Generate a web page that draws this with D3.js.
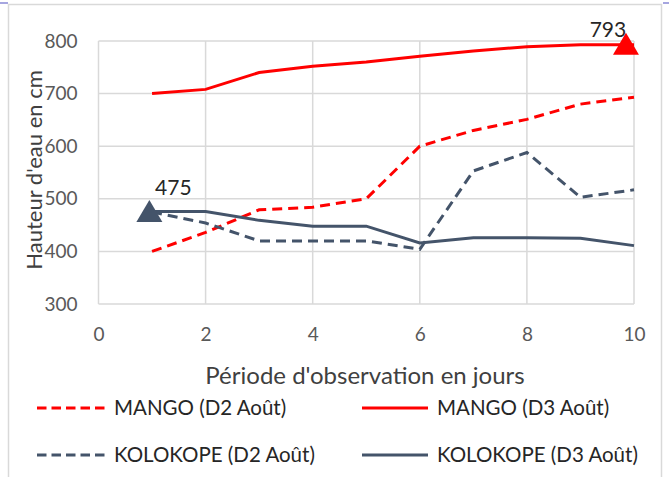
<!DOCTYPE html>
<html><head><meta charset="utf-8">
<script src="https://cdn.jsdelivr.net/npm/d3@7"></script>
<style>body{margin:0;background:#fff;}svg{display:block;}</style>
</head><body>
<script>
const days = [1,2,3,4,5,6,7,8,9,10];
const mangoD2 = [400,436,479,484,500,600,630,651,680,693];
const mangoD3 = [700,708,740,752,760,771,781,789,793,793];
const koloD2 = [475,454,420,420,420,404,553,588,503,517];
const koloD3 = [476,476,459,448,448,416,426,426,425,411];
const xTicks = [0,2,4,6,8,10];
const yTicks = [300,400,500,600,700,800];
const labelPoints = [{x:9.85,y:793,text:"793",c:"#ff0000"},{x:0.95,y:475,text:"475",c:"#44546a"}];
const seriesNames = ["MANGO (D2 Août)","MANGO (D3 Août)","KOLOKOPE (D2 Août)","KOLOKOPE (D3 Août)"];

const W=669,H=477;
const svg=d3.select("body").append("svg").attr("width",W).attr("height",H);
svg.append("rect").attr("x",8.5).attr("y",4.5).attr("width",653).attr("height",480)
  .attr("fill","#fff").attr("stroke","#d9d9d9").attr("stroke-width",1.5);
svg.append("line").attr("x1",0).attr("x2",8).attr("y1",3).attr("y2",3).attr("stroke","#a6a6e0").attr("stroke-width",2);
svg.append("line").attr("x1",663).attr("x2",669).attr("y1",3).attr("y2",3).attr("stroke","#a6a6e0").attr("stroke-width",2);

const x=d3.scaleLinear().domain([0,10]).range([98.5,634]);
const y=d3.scaleLinear().domain([300,800]).range([304,41]);
const font="Lato, 'Open Sans', sans-serif";

svg.append("g").selectAll("line").data(yTicks).join("line")
  .attr("x1",x(0)).attr("x2",x(10)).attr("y1",d=>y(d)).attr("y2",d=>y(d))
  .attr("stroke","#d9d9d9").attr("stroke-width",1.5);
svg.append("g").selectAll("line").data(xTicks).join("line")
  .attr("x1",d=>x(d)).attr("x2",d=>x(d)).attr("y1",y(300)).attr("y2",y(800))
  .attr("stroke","#d9d9d9").attr("stroke-width",1.5);

const xa=svg.append("g").attr("transform",`translate(0,${y(300)})`)
  .call(d3.axisBottom(x).tickValues(xTicks).tickSize(0).tickPadding(24));
xa.select(".domain").remove();
xa.selectAll("text").attr("font-family",font).attr("font-size",19).attr("fill","#595959");
const ya=svg.append("g").attr("transform",`translate(${x(0)},0)`)
  .call(d3.axisLeft(y).tickValues(yTicks).tickSize(0).tickPadding(21));
ya.select(".domain").remove();
ya.selectAll("text").attr("font-family",font).attr("font-size",19).attr("fill","#595959");

svg.append("text").attr("x",365).attr("y",384).attr("text-anchor","middle")
  .attr("font-family",font).attr("font-size",24).attr("fill","#404040").text("Période d'observation en jours");
svg.append("text").attr("transform","translate(42,170) rotate(-90)").attr("text-anchor","middle")
  .attr("font-family",font).attr("font-size",22).attr("fill","#404040").text("Hauteur d'eau en cm");

const series=[
  {v:mangoD2,c:"#ff0000",dash:"10,6"},
  {v:mangoD3,c:"#ff0000",dash:null},
  {v:koloD2,c:"#44546a",dash:"10,6"},
  {v:koloD3,c:"#44546a",dash:null}];
const line=d3.line().x((d,i)=>x(days[i])).y(d=>y(d));
series.forEach(s=>{
  svg.append("path").attr("d",line(s.v)).attr("fill","none").attr("stroke",s.c)
    .attr("stroke-width",3).attr("stroke-dasharray",s.dash);
});

labelPoints.forEach(p=>{
  const cx=x(p.x),cy=y(p.y);
  svg.append("path").attr("d",`M${cx},${cy-12}L${cx+13},${cy+10}L${cx-13},${cy+10}Z`).attr("fill",p.c);
});
svg.append("text").attr("x",x(labelPoints[0].x)-18).attr("y",y(labelPoints[0].y)-8).attr("text-anchor","middle")
  .attr("font-family",font).attr("font-size",21).attr("fill","#262626").text(labelPoints[0].text);
svg.append("text").attr("x",x(labelPoints[1].x)+24).attr("y",y(labelPoints[1].y)-17).attr("text-anchor","middle")
  .attr("font-family",font).attr("font-size",21).attr("fill","#262626").text(labelPoints[1].text);

const leg=[{x0:37,x1:108,tx:114,y:408},{x0:362,x1:428,tx:437,y:408},{x0:37,x1:108,tx:114,y:455},{x0:362,x1:428,tx:437,y:455}];
leg.forEach((l,i)=>{
  svg.append("line").attr("x1",l.x0).attr("x2",l.x1).attr("y1",l.y).attr("y2",l.y)
    .attr("stroke",series[i].c).attr("stroke-width",3).attr("stroke-dasharray",series[i].dash?"9.5,5":null);
  svg.append("text").attr("x",l.tx).attr("y",l.y+7).attr("font-family",font).attr("font-size",20.5)
    .attr("fill","#262626").text(seriesNames[i]);
});
</script>
</body></html>
